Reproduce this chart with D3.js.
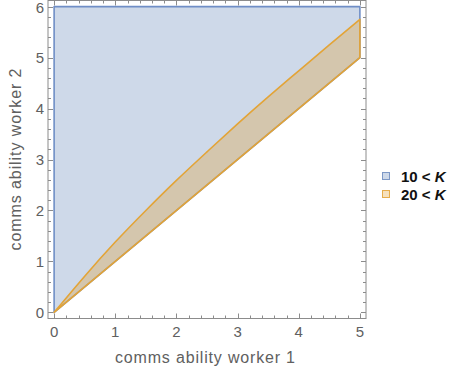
<!DOCTYPE html>
<html>
<head>
<meta charset="utf-8">
<script src="https://cdn.jsdelivr.net/npm/d3@7"></script>
<style>
  body { margin: 0; background: #fff; }
  text { font-family: "Liberation Sans", Arial, sans-serif; }
</style>
</head>
<body>
<svg id="chart" width="455" height="376"></svg>
<script>
// region boundaries
var upperX = [0, 0.5, 1, 1.5, 2, 2.5, 3, 3.5, 4, 4.5, 5];
var upperY = [0, 0.71, 1.38, 2.0, 2.59, 3.15, 3.7, 4.23, 4.74, 5.25, 5.75];
var lowerX = [0, 5];
var lowerY = [0, 5];
var xRange = [0, 5];
var yRange = [0, 6];
var xTicks = [0, 1, 2, 3, 4, 5];
var yTicks = [0, 1, 2, 3, 4, 5, 6];
var legendLabels = ['10', '20'];

var blue = '#5e81b5', orange = '#e19c24';

var svg = d3.select('#chart');
var frame = {left: 48, right: 366, top: 0.5, bottom: 318.5};

var x = d3.scaleLinear().domain([xRange[0] - 0.1, xRange[1] + 0.1]).range([frame.left, frame.right]);
var y = d3.scaleLinear().domain([yRange[0] - 0.12, yRange[1] + 0.12]).range([frame.bottom, frame.top]);

var line = d3.line().x(function(d) { return x(d[0]); }).y(function(d) { return y(d[1]); });
var smooth = d3.line().x(function(d) { return x(d[0]); }).y(function(d) { return y(d[1]); })
    .curve(d3.curveNatural);
var lower = lowerX.map(function(v, i) { return [v, lowerY[i]]; });
var upper = upperX.map(function(v, i) { return [v, upperY[i]]; });

// 10 < K region: above the lower line, inside the plot range
var bluePts = [[xRange[0], yRange[0]], [xRange[0], yRange[1]], [xRange[1], yRange[1]]]
    .concat(lower.slice().reverse());
svg.append('path')
    .attr('d', line(bluePts) + 'Z')
    .attr('fill', blue).attr('fill-opacity', 0.3)
    .attr('stroke', '#6f8ec6').attr('stroke-width', 1.6)
    .attr('stroke-linejoin', 'round');

// 20 < K region: between the lower line and the upper curve
var lowerBack = lower.slice().reverse();
svg.append('path')
    .attr('d', smooth(upper) + line(lowerBack).replace('M', 'L') + 'Z')
    .attr('fill', orange).attr('fill-opacity', 0.3)
    .attr('stroke', '#e3a437').attr('stroke-width', 1.6)
    .attr('stroke-linejoin', 'round');

// frame
var axisColor = '#8c8c8c';
svg.append('rect')
    .attr('x', frame.left).attr('y', frame.top)
    .attr('width', frame.right - frame.left).attr('height', frame.bottom - frame.top)
    .attr('fill', 'none').attr('stroke', axisColor).attr('stroke-width', 1);

var ticks = svg.append('g').attr('stroke', axisColor).attr('stroke-width', 1);
d3.range(xRange[0], xRange[1] + 0.001, 0.2).forEach(function(v) {
    var major = Math.abs(v - Math.round(v)) < 1e-6;
    var len = major ? 5 : 3;
    var px = Math.round(x(v)) + 0.5;
    ticks.append('line').attr('x1', px).attr('x2', px).attr('y1', frame.bottom).attr('y2', frame.bottom - len);
    ticks.append('line').attr('x1', px).attr('x2', px).attr('y1', frame.top).attr('y2', frame.top + len);
});
d3.range(yRange[0], yRange[1] + 0.001, 0.2).forEach(function(v) {
    var major = Math.abs(v - Math.round(v)) < 1e-6;
    var len = major ? 5 : 3;
    var py = Math.round(y(v)) + 0.5;
    ticks.append('line').attr('y1', py).attr('y2', py).attr('x1', frame.left).attr('x2', frame.left + len);
    ticks.append('line').attr('y1', py).attr('y2', py).attr('x1', frame.right).attr('x2', frame.right - len);
});

var labelColor = '#606060';
svg.append('g').selectAll('text').data(xTicks).enter().append('text')
    .attr('x', function(d) { return x(d); })
    .attr('y', 337)
    .attr('text-anchor', 'middle')
    .attr('font-size', 15).attr('fill', labelColor)
    .text(function(d) { return d; });

svg.append('g').selectAll('text').data(yTicks).enter().append('text')
    .attr('x', 44)
    .attr('y', function(d) { return Math.max(y(d) + 5.5, 12.5); })
    .attr('text-anchor', 'end')
    .attr('font-size', 15).attr('fill', labelColor)
    .text(function(d) { return d; });

svg.append('text')
    .attr('x', (frame.left + frame.right) / 2 - 2).attr('y', 363)
    .attr('text-anchor', 'middle')
    .attr('font-size', 16).attr('fill', labelColor)
    .attr('textLength', 180).attr('lengthAdjust', 'spacing')
    .text('comms ability worker 1');

svg.append('text')
    .attr('transform', 'translate(21,' + ((frame.top + frame.bottom) / 2) + ') rotate(-90)')
    .attr('text-anchor', 'middle')
    .attr('font-size', 16).attr('fill', labelColor)
    .attr('textLength', 182).attr('lengthAdjust', 'spacing')
    .text('comms ability worker 2');

// legend
var legend = svg.append('g');
var legendColors = [blue, orange];
var legendStroke = ['#7d98c6', '#e6ad4c'];
legendLabels.forEach(function(lab, i) {
    var cy = 176 + i * 18;
    legend.append('rect')
        .attr('x', 382.5).attr('y', cy - 3.5)
        .attr('width', 7).attr('height', 7)
        .attr('fill', legendColors[i]).attr('fill-opacity', 0.3)
        .attr('stroke', legendStroke[i]).attr('stroke-width', 1);
    var t = legend.append('text')
        .attr('x', 401).attr('y', cy + 5.5)
        .attr('font-size', 15).attr('font-weight', 'bold').attr('fill', '#111');
    t.append('tspan').text(lab + ' < ');
    t.append('tspan').attr('font-style', 'italic').text('K');
});
</script>
</body>
</html>
